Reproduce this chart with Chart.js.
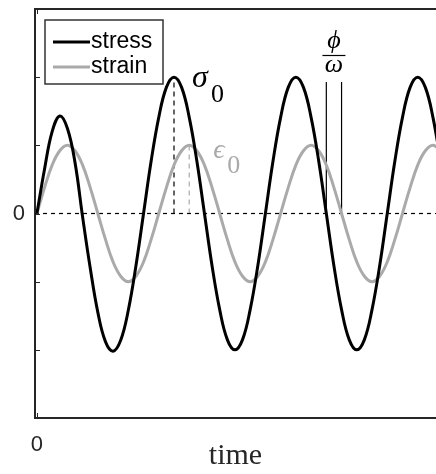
<!DOCTYPE html>
<html>
<head>
<meta charset="utf-8">
<script src="https://cdn.jsdelivr.net/npm/chart.js@4"></script>
<style>
  html, body { margin: 0; padding: 0; background: #fff; }
  canvas { display: block; }
</style>
</head>
<body>
<canvas id="chart" width="436" height="474"></canvas>
<script>
// time in steps of 1/16 of a period
const time = [0, 1, 2, 3, 4, 5, 6, 7, 8, 9, 10, 11, 12, 13, 14, 15,
    16, 17, 18, 19, 20, 21, 22, 23, 24, 25, 26, 27, 28, 29, 30, 31,
    32, 33, 34, 35, 36, 37, 38, 39, 40, 41, 42, 43, 44, 45, 46, 47,
    48, 49, 50, 51, 52, 53];

const stress = [0, 0.65, 1.2, 1.43, 1.25, 0.75, -0.05, -0.8, -1.45, -1.88, -2.02, -1.86, -1.42, -0.77, 0, 0.77,
    1.41, 1.85, 2, 1.85, 1.41, 0.77, 0, -0.77, -1.41, -1.85, -2, -1.85, -1.41, -0.77, 0, 0.77,
    1.41, 1.85, 2, 1.85, 1.41, 0.77, 0, -0.77, -1.41, -1.85, -2, -1.85, -1.41, -0.77, 0, 0.77,
    1.41, 1.85, 2, 1.85, 1.41, 0.77];

const strain = [0, 0.38, 0.71, 0.92, 1, 0.92, 0.71, 0.38, 0, -0.38, -0.71, -0.92, -1, -0.92, -0.71, -0.38,
    0, 0.38, 0.71, 0.92, 1, 0.92, 0.71, 0.38, 0, -0.38, -0.71, -0.92, -1, -0.92, -0.71, -0.38,
    0, 0.38, 0.71, 0.92, 1, 0.92, 0.71, 0.38, 0, -0.38, -0.71, -0.92, -1, -0.92, -0.71, -0.38,
    0, 0.38, 0.71, 0.92, 1, 0.92];

const seriesNames = ['stress', 'strain'];
const yTicks = [-2, -1, 0, 1, 2];
const xTicks = [0];

// marker lines: sigma_0 at stress peak, eps_0 at strain peak, phi/omega between zero crossings
const sigmaLine = [{x: 18, y: 0}, {x: 18, y: 2}];
const epsLine = [{x: 20, y: 0}, {x: 20, y: 1}];
const phiLine1 = [{x: 38, y: 0}, {x: 38, y: 1.93}];
const phiLine2 = [{x: 40, y: 0}, {x: 40, y: 1.93}];

const xMin = -0.25, xMax = 52.4;
const axisColor = '#262626';

const pts = (ys) => time.map((t, i) => ({x: t, y: ys[i]}));

const extras = {
    id: 'extras',
    afterDraw(chart) {
        const ctx = chart.ctx;
        const a = chart.chartArea;
        const xs = chart.scales.x, ys = chart.scales.y;
        ctx.save();
        // top border of the box
        ctx.strokeStyle = axisColor;
        ctx.lineWidth = 2;
        ctx.beginPath();
        ctx.moveTo(a.left, a.top);
        ctx.lineTo(a.right, a.top);
        ctx.stroke();
        // inward tick marks
        ctx.lineWidth = 1;
        yTicks.forEach(v => {
            const py = Math.round(ys.getPixelForValue(v)) + 0.5;
            ctx.beginPath();
            ctx.moveTo(a.left, py);
            ctx.lineTo(a.left + 5, py);
            ctx.stroke();
        });
        xTicks.forEach(v => {
            const px = Math.round(xs.getPixelForValue(v)) + 0.5;
            ctx.beginPath();
            ctx.moveTo(px, a.bottom);
            ctx.lineTo(px, a.bottom - 5);
            ctx.moveTo(px, a.top);
            ctx.lineTo(px, a.top + 5);
            ctx.stroke();
        });

        // legend box
        const lx = 45, ly = 20, lw = 118, lh = 64;
        ctx.fillStyle = '#fff';
        ctx.fillRect(lx, ly, lw, lh);
        ctx.strokeStyle = '#333';
        ctx.lineWidth = 1.5;
        ctx.strokeRect(lx, ly, lw, lh);
        ctx.font = '23px "Liberation Sans", Arial, sans-serif';
        ctx.textBaseline = 'middle';
        chart.data.datasets.slice(0, 2).forEach((ds, i) => {
            const yy = 42 + i * 25;
            ctx.strokeStyle = ds.borderColor;
            ctx.lineWidth = ds.borderWidth;
            ctx.beginPath();
            ctx.moveTo(53, yy);
            ctx.lineTo(90, yy);
            ctx.stroke();
            ctx.fillStyle = '#000';
            ctx.fillText(ds.label, 91, yy);
        });

        // labels sigma_0, eps_0, phi/omega
        const serif = '"Liberation Serif", "DejaVu Serif", serif';
        ctx.textBaseline = 'alphabetic';
        ctx.textAlign = 'left';
        let px = xs.getPixelForValue(18), py = ys.getPixelForValue(2);
        ctx.fillStyle = '#000';
        ctx.font = 'italic 32px ' + serif;
        ctx.fillText('σ', px + 18, py + 10);
        ctx.font = '26px ' + serif;
        ctx.fillText('0', px + 37, py + 25);

        px = xs.getPixelForValue(20); py = ys.getPixelForValue(1);
        ctx.fillStyle = '#aaaaaa';
        ctx.font = 'italic 28px ' + serif;
        ctx.fillText('ϵ', px + 24, py + 13);
        ctx.font = '26px ' + serif;
        ctx.fillText('0', px + 38, py + 28);

        const p1 = xs.getPixelForValue(38), p2 = xs.getPixelForValue(40);
        const cx = (p1 + p2) / 2;
        ctx.fillStyle = '#000';
        ctx.textAlign = 'center';
        ctx.font = 'italic 26px ' + serif;
        ctx.fillText('ϕ', cx, 48);
        ctx.fillText('ω', cx, 72);
        ctx.strokeStyle = '#000';
        ctx.lineWidth = 1.2;
        ctx.beginPath();
        ctx.moveTo(cx - 11.5, 55.5);
        ctx.lineTo(cx + 11.5, 55.5);
        ctx.stroke();
        ctx.restore();
    }
};

const markerStyle = (color, dash) => ({
    borderColor: color,
    borderWidth: 1.2,
    borderDash: dash,
    pointRadius: 0,
    fill: false,
    tension: 0
});

new Chart(document.getElementById('chart'), {
    type: 'line',
    data: {
        datasets: [
            {
                label: seriesNames[0],
                data: pts(stress),
                borderColor: '#000',
                borderWidth: 3,
                pointRadius: 0,
                tension: 0.4
            },
            {
                label: seriesNames[1],
                data: pts(strain),
                borderColor: '#aaaaaa',
                borderWidth: 3,
                pointRadius: 0,
                tension: 0.4
            },
            Object.assign({data: [{x: xMin, y: 0}, {x: xMax, y: 0}]}, markerStyle('#000', [4, 4])),
            Object.assign({data: sigmaLine}, markerStyle('#000', [5, 4])),
            Object.assign({data: epsLine}, markerStyle('#aaaaaa', [5, 4])),
            Object.assign({data: phiLine1}, markerStyle('#000', [])),
            Object.assign({data: phiLine2}, markerStyle('#000', []))
        ]
    },
    options: {
        responsive: false,
        devicePixelRatio: 1,
        animation: false,
        layout: {padding: {top: 9, left: 0, right: 0, bottom: 0}},
        plugins: {
            legend: {display: false},
            tooltip: {enabled: false}
        },
        scales: {
            x: {
                type: 'linear',
                min: xMin,
                max: xMax,
                afterFit: (s) => { s.height = 56; s.paddingLeft = 0; s.paddingRight = 0; },
                afterBuildTicks: (s) => { s.ticks = xTicks.map(v => ({value: v})); },
                grid: {display: false, drawTicks: false},
                border: {display: true, color: axisColor, width: 2},
                ticks: {
                    padding: 14,
                    color: '#262626',
                    font: {family: '"Liberation Sans", Arial, sans-serif', size: 22},
                    maxRotation: 0,
                    callback: (v) => String(v)
                },
                title: {
                    display: true,
                    text: 'time',
                    color: '#262626',
                    font: {family: '"Liberation Serif", "Times New Roman", serif', size: 30},
                    padding: {top: 0, bottom: 0}
                }
            },
            y: {
                min: -3,
                max: 3,
                afterFit: (s) => { s.width = 35; s.paddingTop = 0; s.paddingBottom = 0; },
                grid: {display: false, drawTicks: false},
                border: {display: true, color: axisColor, width: 2},
                ticks: {
                    stepSize: 1,
                    padding: 10,
                    color: '#262626',
                    font: {family: '"Liberation Sans", Arial, sans-serif', size: 22},
                    callback: (v) => (v === 0 ? '0' : '')
                }
            }
        }
    },
    plugins: [extras]
});
</script>
</body>
</html>
